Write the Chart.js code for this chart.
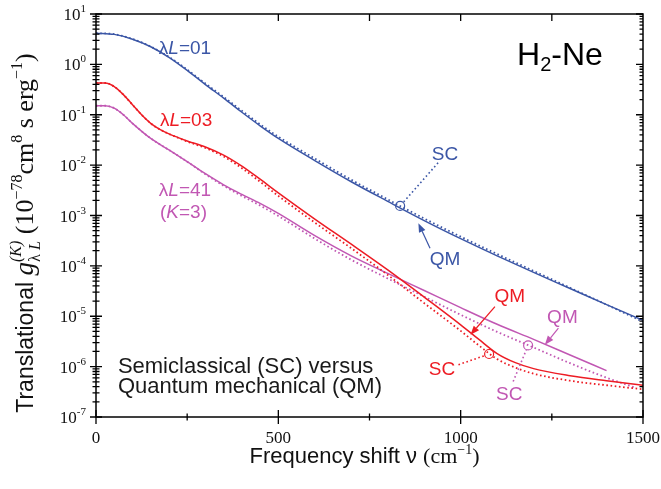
<!DOCTYPE html>
<html><head><meta charset="utf-8">
<script src="https://cdn.jsdelivr.net/npm/chart.js@4.4.1/dist/chart.umd.min.js"></script>
<style>html,body{margin:0;padding:0;background:#fff}#wrap{width:661px;height:489px}</style>
</head><body><div id="wrap"><canvas id="c" width="661" height="489"></canvas></div>
<script>
const BLUE = '#3b56a6', RED = '#ed1c24', MAG = '#c157b3';
const SANS = '"Liberation Sans", Arial, sans-serif';
const SERIF = '"Liberation Serif", "Times New Roman", serif';

// lambda L = 01
const xBlue  = [0, 50, 100, 150, 200, 250, 300, 350, 400, 450, 500, 600, 700, 800, 900, 1000, 1100, 1200, 1300, 1400, 1500];
const blueQM = [4.17, 3.94, 3.16, 2.24, 1.38, 0.759, 0.398, 0.214, 0.112, 0.0603, 0.0339, 0.0123, 4.68e-3, 1.91e-3, 7.94e-4, 3.47e-4, 1.58e-4, 7.41e-5, 3.55e-5, 1.70e-5, 8.32e-6];
const blueSC = [4.17, 3.98, 3.20, 2.26, 1.41, 0.785, 0.417, 0.226, 0.120, 0.0646, 0.0367, 0.0135, 5.13e-3, 2.09e-3, 8.71e-4, 3.80e-4, 1.72e-4, 7.94e-5, 3.67e-5, 1.70e-5, 7.76e-6];

// lambda L = 03
const xRed  = [0, 25, 50, 75, 100, 125, 150, 175, 200, 250, 300, 350, 400, 450, 500, 600, 700, 800, 900, 1000, 1050, 1100, 1150, 1200, 1300, 1400, 1500];
const redQM = [0.427, 0.427, 0.363, 0.251, 0.158, 0.100, 0.0676, 0.0513, 0.0417, 0.0302, 0.0229, 0.0158, 9.55e-3, 5.25e-3, 2.82e-3, 8.51e-4, 2.69e-4, 8.32e-5, 2.40e-5, 6.76e-6, 3.47e-6, 1.82e-6, 1.20e-6, 9.12e-7, 6.61e-7, 5.25e-7, 4.27e-7];
const redSC = [0.427, 0.427, 0.363, 0.251, 0.158, 0.100, 0.0676, 0.0513, 0.0417, 0.0295, 0.0219, 0.0148, 8.71e-3, 4.68e-3, 2.45e-3, 7.24e-4, 2.24e-4, 6.61e-5, 1.82e-5, 5.13e-6, 2.63e-6, 1.41e-6, 9.55e-7, 7.24e-7, 5.25e-7, 4.27e-7, 3.55e-7];

// lambda L = 41 (K=3)
const xMag   = [0, 25, 50, 75, 100, 150, 200, 250, 300, 350, 400, 450, 500, 600, 700, 800, 900, 1000, 1100, 1200, 1300, 1400];
const magQM  = [0.151, 0.151, 0.135, 0.100, 0.0676, 0.0339, 0.0200, 0.0117, 6.76e-3, 4.07e-3, 2.63e-3, 1.74e-3, 1.10e-3, 3.98e-4, 1.58e-4, 7.08e-5, 3.24e-5, 1.48e-5, 6.92e-6, 3.47e-6, 1.70e-6, 8.32e-7];
const xMagSC = [0, 25, 50, 75, 100, 150, 200, 250, 300, 350, 400, 450, 500, 600, 700, 800, 900, 1000, 1100, 1200, 1300, 1400, 1480];
const magSC  = [0.151, 0.151, 0.135, 0.100, 0.0676, 0.0339, 0.0200, 0.0117, 6.61e-3, 3.89e-3, 2.45e-3, 1.58e-3, 9.77e-4, 3.47e-4, 1.32e-4, 5.62e-5, 2.45e-5, 1.07e-5, 4.90e-6, 2.40e-6, 1.17e-6, 6.03e-7, 3.80e-7];

// SC markers [x, y]
const blueMark = [834, 1.55e-3];
const redMark  = [1078, 1.78e-6];
const magMark  = [1185, 2.63e-6];

// axis ticks
const xMajor = [0, 500, 1000, 1500];
const xMinor = [250, 750, 1250];
const xTop   = [250, 500, 750, 1000, 1250];
const yExp   = [-7, -6, -5, -4, -3, -2, -1, 0, 1];

// SC / QM labels (baseline positions in data units)
const labels = [
  { t: 'SC', c: BLUE, x: 957, y: 0.0127 },
  { t: 'QM', c: BLUE, x: 957, y: 1.05e-4 },
  { t: 'QM', c: RED, x: 1135, y: 1.96e-5 },
  { t: 'SC', c: RED, x: 949, y: 6.87e-7 },
  { t: 'QM', c: MAG, x: 1279, y: 7.30e-6 },
  { t: 'SC', c: MAG, x: 1133, y: 2.19e-7 }
];
// arrows: from -> tip
const arrows = [
  { c: BLUE, from: [916, 2.24e-4], to: [884, 7.03e-4] },
  { c: RED, from: [1094, 1.56e-5], to: [1027, 4.28e-6] },
  { c: MAG, from: [1268, 5.81e-6], to: [1231, 2.71e-6] }
];
// dotted leaders: from -> marker
const leaders = [
  { c: BLUE, from: [938, 0.0111], to: blueMark },
  { c: RED, from: [994, 1.09e-6], to: redMark },
  { c: MAG, from: [1144, 5.06e-7], to: magMark }
];

const pts = (xs, ys) => xs.map((x, i) => ({ x: x, y: ys[i] }));

function line(data, color, dotted) {
  return {
    data: data, borderColor: color, borderWidth: dotted ? 1.8 : 1.5,
    borderDash: dotted ? [1.6, 2.6] : [], pointRadius: 0,
    cubicInterpolationMode: 'monotone', fill: false
  };
}
function mark(p, color) {
  return {
    data: [{ x: p[0], y: p[1] }], showLine: false, pointRadius: 4.5,
    pointBorderColor: color, pointBackgroundColor: 'rgba(0,0,0,0)', pointBorderWidth: 1.2
  };
}

function rich(ctx, segs, x, y, align) {
  let w = 0;
  segs.forEach(s => { ctx.font = s.f; s.w = s.adv !== undefined ? s.adv : ctx.measureText(s.t).width; w += s.w; });
  let cx = align === 'right' ? x - w : align === 'center' ? x - w / 2 : x;
  segs.forEach(s => { ctx.font = s.f; ctx.fillText(s.t, cx, y + (s.dy || 0)); cx += s.w; });
}

function arrow(ctx, x0, y0, x1, y1, color) {
  const a = Math.atan2(y1 - y0, x1 - x0), L = 9, W = 3.5;
  const bx = x1 - L * Math.cos(a), by = y1 - L * Math.sin(a);
  ctx.strokeStyle = color; ctx.fillStyle = color; ctx.lineWidth = 1.2; ctx.setLineDash([]);
  ctx.beginPath(); ctx.moveTo(x0, y0); ctx.lineTo(bx, by); ctx.stroke();
  ctx.beginPath(); ctx.moveTo(x1, y1);
  ctx.lineTo(bx + W * Math.sin(a), by - W * Math.cos(a));
  ctx.lineTo(bx - W * Math.sin(a), by + W * Math.cos(a));
  ctx.closePath(); ctx.fill();
}

const decor = {
  id: 'decor',
  afterDraw(chart) {
    const ctx = chart.ctx, a = chart.chartArea, sx = chart.scales.x, sy = chart.scales.y;
    const X = v => sx.getPixelForValue(v), Y = v => sy.getPixelForValue(v);
    ctx.save();
    ctx.textBaseline = 'alphabetic';
    ctx.textAlign = 'left';

    // annotations
    leaders.forEach(l => {
      const x0 = X(l.from[0]), y0 = Y(l.from[1]), x1 = X(l.to[0]), y1 = Y(l.to[1]);
      const d = Math.hypot(x1 - x0, y1 - y0), r = 4.5;
      ctx.strokeStyle = l.c; ctx.lineWidth = 1.6; ctx.setLineDash([1.6, 2.6]);
      ctx.beginPath(); ctx.moveTo(x0, y0);
      ctx.lineTo(x1 - (x1 - x0) * r / d, y1 - (y1 - y0) * r / d); ctx.stroke();
    });
    ctx.setLineDash([]);
    arrows.forEach(r => arrow(ctx, X(r.from[0]), Y(r.from[1]), X(r.to[0]), Y(r.to[1]), r.c));
    labels.forEach(l => { ctx.fillStyle = l.c; rich(ctx, [{ t: l.t, f: '19px ' + SANS }], X(l.x), Y(l.y), 'center'); });

    const lam = (txt, c, x, y) => {
      ctx.fillStyle = c;
      rich(ctx, [{ t: 'λ', f: '19px ' + SANS }, { t: 'L', f: 'italic 19px ' + SANS }, { t: txt, f: '19px ' + SANS }], X(x), Y(y), 'center');
    };
    lam('=01', BLUE, 244, 1.61);
    lam('=03', RED, 247, 0.0608);
    lam('=41', MAG, 244, 2.48e-3);
    ctx.fillStyle = MAG;
    rich(ctx, [{ t: '(', f: '19px ' + SANS }, { t: 'K', f: 'italic 19px ' + SANS }, { t: '=3)', f: '19px ' + SANS }], X(240), Y(8.95e-4), 'center');

    ctx.fillStyle = '#000';
    rich(ctx, [{ t: 'H', f: '32px ' + SANS }, { t: '2', f: '20px ' + SANS, dy: 6 }, { t: '-Ne', f: '32px ' + SANS }], X(1390), Y(0.973), 'right');

    ctx.fillStyle = '#1a1a1a';
    ctx.font = '22px ' + SANS;
    ctx.fillText('Semiclassical (SC) versus', X(60), Y(7.64e-7));
    ctx.fillText('Quantum mechanical (QM)', X(60), Y(3.06e-7));

    // frame
    ctx.strokeStyle = '#000'; ctx.lineWidth = 1.5;
    ctx.strokeRect(a.left, a.top, a.right - a.left, a.bottom - a.top);
    ctx.lineWidth = 1.3;
    ctx.beginPath();
    yExp.forEach(e => {
      const y = Y(Math.pow(10, e));
      ctx.moveTo(a.left - 6, y); ctx.lineTo(a.left + 6, y);
      ctx.moveTo(a.right - 7, y); ctx.lineTo(a.right, y);
      if (e < 1) for (let k = 2; k <= 9; k++) {
        const ym = Y(k * Math.pow(10, e));
        ctx.moveTo(a.left - 3.5, ym); ctx.lineTo(a.left + 3.5, ym);
        ctx.moveTo(a.right - 3.5, ym); ctx.lineTo(a.right, ym);
      }
    });
    xMajor.forEach(v => { const x = X(v); ctx.moveTo(x, a.bottom - 7); ctx.lineTo(x, a.bottom + 7); });
    xMinor.forEach(v => { const x = X(v); ctx.moveTo(x, a.bottom - 3.5); ctx.lineTo(x, a.bottom + 3.5); });
    xTop.forEach(v => { const x = X(v); ctx.moveTo(x, a.top); ctx.lineTo(x, a.top + 7); });
    ctx.stroke();

    // tick labels
    ctx.fillStyle = '#111';
    yExp.forEach(e => {
      const y = Y(Math.pow(10, e));
      rich(ctx, [{ t: '10', f: '17px ' + SERIF, dy: 6 }, { t: e < 0 ? '-' + (-e) : String(e), f: '11px ' + SERIF, dy: -2 }], a.left - 10, y, 'right');
    });
    ctx.font = '17px ' + SERIF; ctx.textAlign = 'center';
    xMajor.forEach(v => ctx.fillText(String(v), X(v), a.bottom + 26));
    ctx.textAlign = 'left';

    // axis titles
    rich(ctx, [{ t: 'Frequency shift ν ', f: '22px ' + SANS }, { t: '(cm', f: '22px ' + SERIF },
      { t: '−1', f: '14px ' + SERIF, dy: -9 }, { t: ')', f: '22px ' + SERIF }], (a.left + a.right) / 2 - 5, a.bottom + 46, 'center');

    ctx.save();
    ctx.translate(33, 233); ctx.rotate(-Math.PI / 2);
    rich(ctx, [
      { t: 'Translational ', f: '23px ' + SANS },
      { t: 'g', f: 'italic 27px ' + SERIF },
      { t: 'λ', f: '16px ' + SERIF, dy: 7, adv: 0 },
      { t: '   L', f: 'italic 16px ' + SERIF, dy: 7, adv: 0 },
      { t: '(K)', f: 'italic 16px ' + SERIF, dy: -12 },
      { t: ' (10', f: '26px ' + SERIF },
      { t: '−78', f: '16px ' + SERIF, dy: -11 },
      { t: 'cm', f: '26px ' + SERIF },
      { t: '8', f: '16px ' + SERIF, dy: -11 },
      { t: ' s erg', f: '26px ' + SERIF },
      { t: '−1', f: '16px ' + SERIF, dy: -11 },
      { t: ')', f: '26px ' + SERIF }
    ], 0, 0, 'center');
    ctx.restore();
    ctx.restore();
  }
};

new Chart(document.getElementById('c').getContext('2d'), {
  type: 'line',
  data: {
    datasets: [
      line(pts(xBlue, blueSC), BLUE, true),
      line(pts(xBlue, blueQM), BLUE, false),
      line(pts(xRed, redSC), RED, true),
      line(pts(xRed, redQM), RED, false),
      line(pts(xMagSC, magSC), MAG, true),
      line(pts(xMag, magQM), MAG, false),
      mark(blueMark, BLUE), mark(redMark, RED), mark(magMark, MAG)
    ]
  },
  options: {
    responsive: false, animation: false, devicePixelRatio: 1,
    layout: { padding: { left: 96, right: 18, top: 14, bottom: 72 } },
    plugins: { legend: { display: false }, tooltip: { enabled: false } },
    scales: {
      x: { type: 'linear', min: 0, max: 1500, display: false },
      y: { type: 'logarithmic', min: 1e-7, max: 10, display: false }
    }
  },
  plugins: [decor]
});
</script>
</body></html>
